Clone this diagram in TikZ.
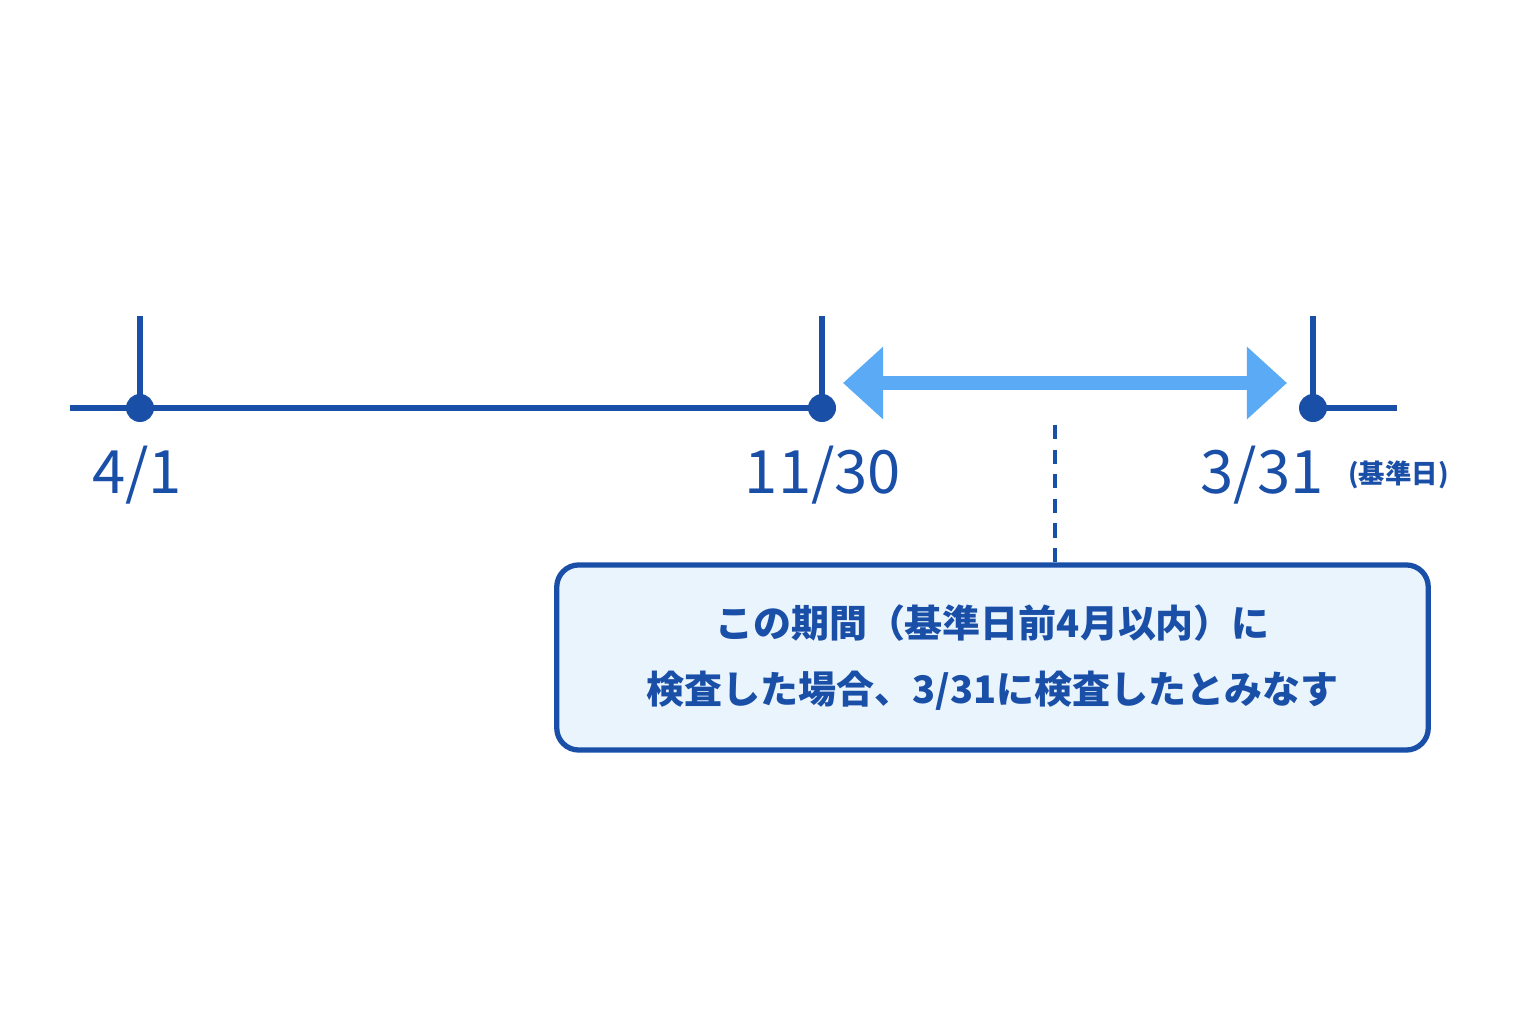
\documentclass[tikz,border=0pt]{standalone}
\usepackage{fontspec}
\setmainfont{Noto Sans CJK JP}
\usetikzlibrary{arrows.meta}
\definecolor{dblue}{HTML}{1A4FA8}
\definecolor{lblue}{HTML}{5AAAF5}
\definecolor{boxfill}{HTML}{EAF4FD}
\begin{document}
\begin{tikzpicture}[x=0.01cm,y=0.01cm]
\tikzstyle{dot}=[circle,fill=dblue,inner sep=0pt,minimum size=0.28cm]
\tikzstyle{date}=[text=dblue,font=\fontsize{17}{20}\selectfont]
\useasboundingbox (0,0) rectangle (1536,1024);

\node[dot] (A) at (140,616) {};
\node[dot] (B) at (822,616) {};
\node[dot] (C) at (1313,616) {};
\coordinate (L) at (70,616);
\coordinate (R) at (1397,616);
\coordinate (At) at (140,708);
\coordinate (Bt) at (822,708);
\coordinate (Ct) at (1313,708);

\draw[dblue,line width=1.7pt] (L) -- (A.center) -- (B.center);
\draw[dblue,line width=1.7pt] (C.center) -- (R);
\draw[dblue,line width=1.7pt] (A.center) -- (At);
\draw[dblue,line width=1.7pt] (B.center) -- (Bt);
\draw[dblue,line width=1.7pt] (C.center) -- (Ct);

\coordinate (P) at (843,641);
\coordinate (Q) at (1287,641);
\draw[lblue,line width=4pt,{Triangle[length=0.4cm,width=0.7cm]}-{Triangle[length=0.4cm,width=0.7cm]}] (P) -- (Q);

\node[date] (a) at (137,549) {4/1};
\node[date] (b) at (823,549) {11/30};
\node[date] (c) at (1262,549) {3/31};
\node[text=dblue,font=\fontsize{7.5}{9}\selectfont\bfseries,anchor=west] (k) at (c.east) {(基準日)};

\node[draw=dblue,fill=boxfill,line width=1.5pt,rounded corners=0.22cm,
  minimum width=8.71cm,minimum height=1.85cm,align=center,text=dblue,
  font=\fontsize{10.8}{19}\selectfont\bfseries] (note) at (992.5,366.5)
  {この期間（基準日前4月以内）に\\検査した場合、3/31に検査したとみなす};
\coordinate (D) at (1055,599);
\draw[dblue,line width=1.3pt,dash pattern=on 4pt off 3pt] (D) -- (note.north -| D);
\end{tikzpicture}
\end{document}
